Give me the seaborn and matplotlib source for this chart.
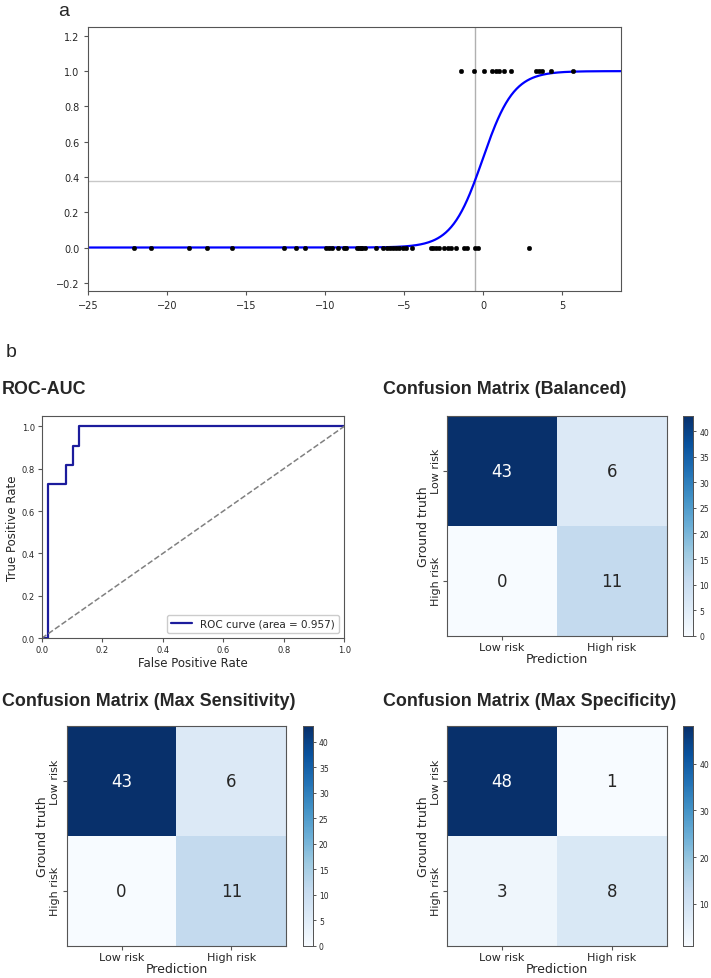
import numpy as np
import pandas as pd
import matplotlib
matplotlib.use("Agg")
import matplotlib.pyplot as plt
import seaborn as sns

sns.set_theme(style="ticks")
plt.rcParams["font.family"] = ["DejaVu Sans"]

# panel a: logistic fit on one feature
x_neg = [-22.1, -21.0, -18.65, -17.5, -15.9, -12.6, -11.85, -11.25, -9.95, -9.75,
         -9.55, -9.2, -8.8, -8.7, -8.0, -7.85, -7.75, -7.65, -7.5, -6.8, -6.35,
         -6.1, -5.9, -5.7, -5.5, -5.3, -5.1, -4.9, -4.5, -3.3, -3.15, -3.0, -2.8,
         -2.5, -2.25, -2.05, -1.75, -1.2, -1.0, -0.55, -0.3, 2.9]
x_pos = [-1.38, -0.57, 0.06, 0.57, 0.82, 1.0, 1.3, 1.76, 3.33, 3.52, 3.7, 4.28, 5.66]
coef_slope = 1.02
coef_intercept = 0.04
threshold_x = -0.53
threshold_p = 0.377

# panel b: ROC
fpr = [0.0, 1 / 49, 1 / 49, 4 / 49, 4 / 49, 5 / 49, 5 / 49, 6 / 49, 6 / 49, 1.0]
tpr = [0.0, 0.0, 8 / 11, 8 / 11, 9 / 11, 9 / 11, 10 / 11, 10 / 11, 1.0, 1.0]
roc_auc = 0.957

classes = ["Low risk", "High risk"]
cm_balanced = [[43, 6], [0, 11]]
cm_sensitivity = [[43, 6], [0, 11]]
cm_specificity = [[48, 1], [3, 8]]

fig = plt.figure(figsize=(7.11, 9.79), dpi=100)

title_font = dict(family=["Liberation Sans", "DejaVu Sans"], fontsize=12.9, fontweight="bold")
edge = "#555555"


def frame(ax):
    for sp in ax.spines.values():
        sp.set_visible(True)
        sp.set_color(edge)
        sp.set_linewidth(0.8)


# ---- panel a
ax = fig.add_axes([0.124, 0.702, 0.749, 0.269])
xs = np.linspace(-25, 8.7, 400)
ys = 1 / (1 + np.exp(-(coef_slope * xs + coef_intercept)))
ax.axhline(threshold_p, color="#c8c8c8", lw=1, zorder=1)
ax.axvline(threshold_x, color="#b0b0b0", lw=1, zorder=1)
sns.lineplot(x=xs, y=ys, color="blue", lw=1.6, ax=ax, zorder=2)
pts = pd.DataFrame({"x": x_neg + x_pos, "y": [0] * len(x_neg) + [1] * len(x_pos)})
sns.scatterplot(data=pts, x="x", y="y", color="black", s=11, edgecolor="black", ax=ax, zorder=3)
ax.set_xlim(-25, 8.7)
ax.set_ylim(-0.245, 1.248)
ax.set_xticks([-25, -20, -15, -10, -5, 0, 5])
ax.set_yticks([-0.2, 0.0, 0.2, 0.4, 0.6, 0.8, 1.0, 1.2])
ax.set_xlabel("")
ax.set_ylabel("")
ax.tick_params(labelsize=7, length=3, width=0.8, color=edge)
frame(ax)
fig.text(0.082, 0.988, "a", fontsize=14, family=["Liberation Sans"], va="center", ha="left")
fig.text(0.008, 0.640, "b", fontsize=14, family=["Liberation Sans"], va="center", ha="left")

# ---- ROC
ax = fig.add_axes([0.0586, 0.347, 0.4257, 0.2274])
sns.lineplot(x=fpr, y=tpr, estimator=None, sort=False, color="#1c1c9c", lw=1.6,
             label=f"ROC curve (area = {roc_auc:.3f})", ax=ax)
ax.plot([0, 1], [0, 1], color="gray", lw=1.1, ls="--")
ax.set_xlim(0, 1)
ax.set_ylim(0, 1.05)
ax.set_xticks([0, 0.2, 0.4, 0.6, 0.8, 1.0])
ax.set_yticks([0, 0.2, 0.4, 0.6, 0.8, 1.0])
ax.tick_params(labelsize=6, length=3, width=0.8, color=edge, pad=2)
ax.set_xlabel("False Positive Rate", fontsize=8.5, labelpad=1)
ax.set_ylabel("True Positive Rate", fontsize=8.5, labelpad=2)
ax.legend(loc="lower right", fontsize=7.5, frameon=True, fancybox=True, framealpha=1,
          edgecolor="#cccccc")
frame(ax)
fig.text(0.003, 1 - 390 / 979, "ROC-AUC", va="center", ha="left", **title_font)


def confusion(cm, rect, cbar_rect, title, title_xy, cticks):
    ax = fig.add_axes(rect)
    cax = fig.add_axes(cbar_rect)
    sns.heatmap(np.array(cm), annot=True, fmt="d", cmap="Blues", ax=ax, cbar_ax=cax,
                xticklabels=classes, yticklabels=classes, annot_kws={"size": 12})
    ax.tick_params(labelsize=8, length=3, width=0.8, color=edge, pad=1.5)
    ax.set_yticklabels(classes, rotation=90, va="center")
    ax.set_xlabel("Prediction", fontsize=9, labelpad=0)
    ax.set_ylabel("Ground truth", fontsize=9, labelpad=1)
    frame(ax)
    cax.set_yticks(cticks)
    cax.tick_params(labelsize=5.5, length=2.5, width=0.7, color=edge, pad=2)
    for sp in cax.spines.values():
        sp.set_visible(True)
        sp.set_color(edge)
        sp.set_linewidth(0.7)
    fig.text(title_xy[0], title_xy[1], title, va="center", ha="left", **title_font)


confusion(cm_balanced, [0.629, 0.3496, 0.3086, 0.2247], [0.961, 0.3496, 0.0141, 0.2247],
          "Confusion Matrix (Balanced)", (0.539, 1 - 390 / 979), range(0, 45, 5))
confusion(cm_sensitivity, [0.0938, 0.0330, 0.3086, 0.224], [0.4257, 0.0330, 0.0141, 0.224],
          "Confusion Matrix (Max Sensitivity)", (0.003, 1 - 702 / 979), range(0, 45, 5))
confusion(cm_specificity, [0.629, 0.0330, 0.3086, 0.224], [0.961, 0.0330, 0.0141, 0.224],
          "Confusion Matrix (Max Specificity)", (0.539, 1 - 702 / 979), range(10, 45, 10))

fig.savefig("out.png", dpi=100)
